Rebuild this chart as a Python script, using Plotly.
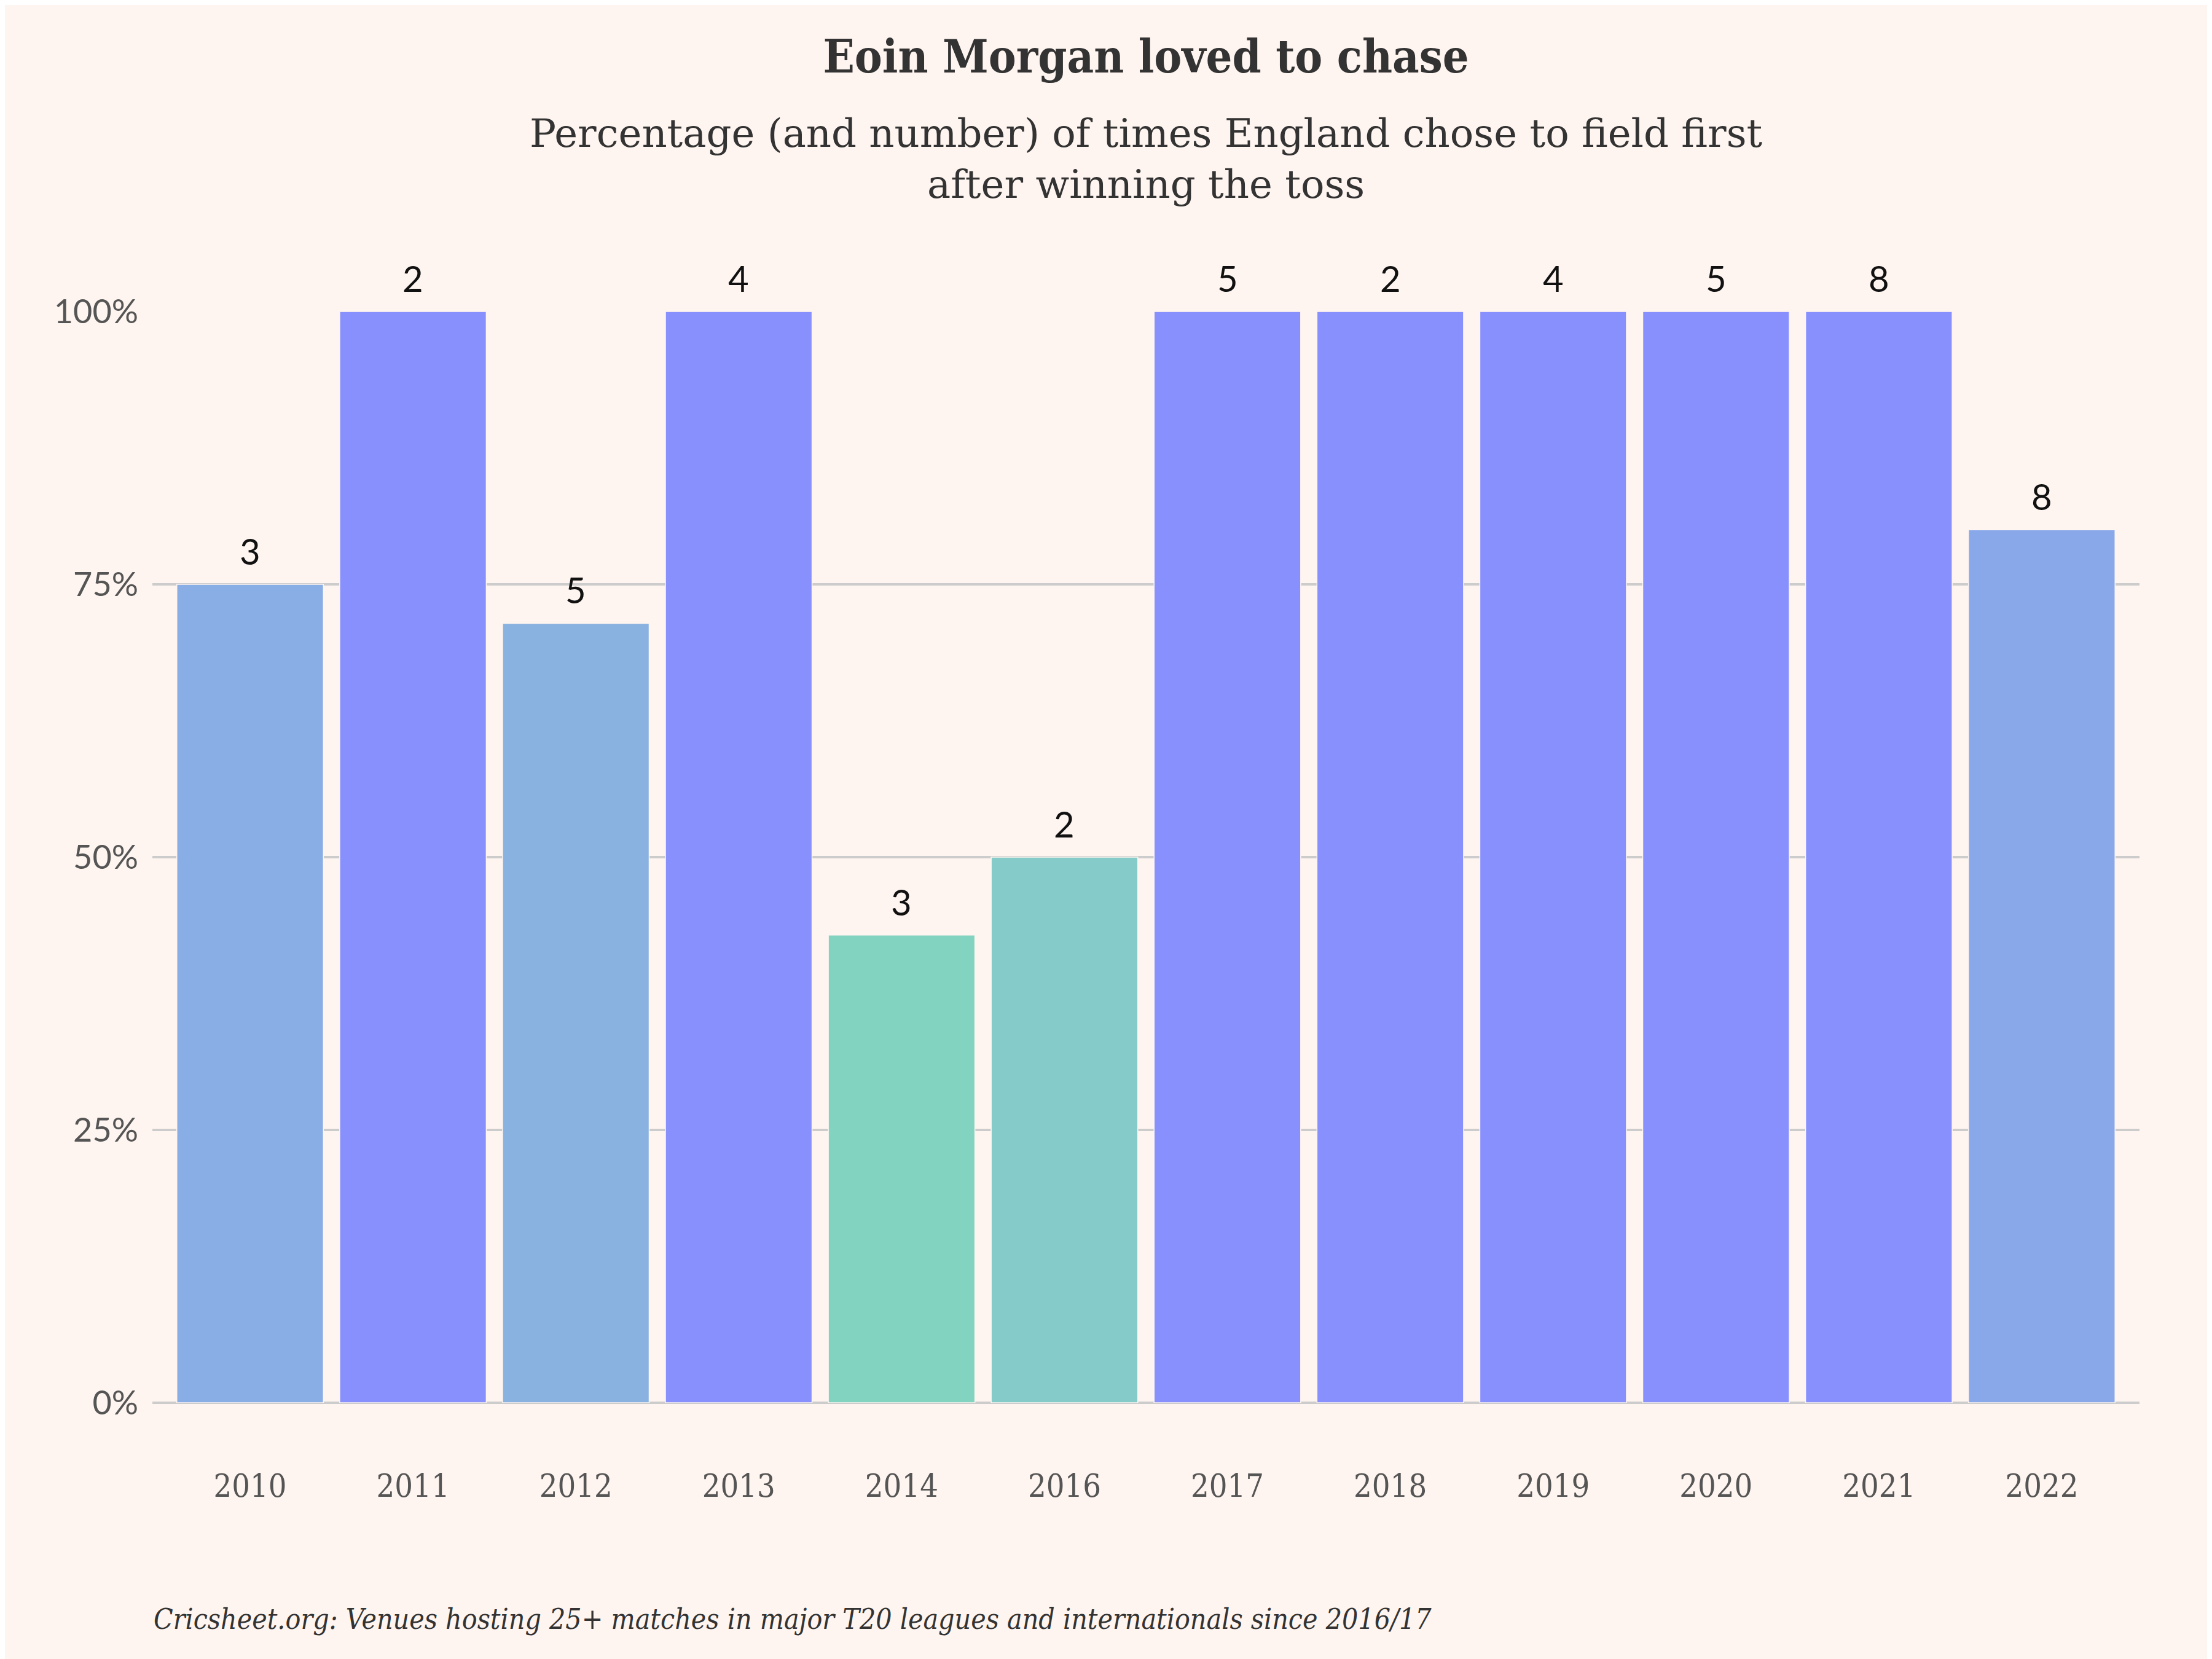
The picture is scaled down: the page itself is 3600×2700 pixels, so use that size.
import plotly.graph_objects as go

years = ["2010", "2011", "2012", "2013", "2014", "2016", "2017", "2018", "2019", "2020", "2021", "2022"]
pct_field_first = [75.0, 100.0, 71.43, 100.0, 42.86, 50.0, 100.0, 100.0, 100.0, 100.0, 100.0, 80.0]
times_field_first = [3, 2, 5, 4, 3, 2, 5, 2, 4, 5, 8, 8]
y_ticks = [0, 25, 50, 75, 100]
y_tick_labels = ["0%", "25%", "50%", "75%", "100%"]

BG = "#FFF5F0"
SERIF_C = "DejaVu Serif Condensed, DejaVu Serif, serif"
SERIF = "DejaVu Serif, serif"

L, R, T, B = 240, 126, 499, 425
plot_h = 2700 - T - B

fig = go.Figure()
fig.add_trace(go.Bar(
    x=years,
    y=pct_field_first,
    marker=dict(
        color=pct_field_first,
        colorscale=[[0, "rgb(131,211,193)"], [0.5, "rgb(137,178,225)"], [1, "rgb(136,144,254)"]],
        line=dict(color=BG, width=1.5),
    ),
    hoverinfo="skip",
))

# count labels above bars, positioned on the category axis by index
annotations = [
    dict(
        x=i, y=p, xref="x", yref="y", text=str(n),
        showarrow=False, yanchor="bottom", xanchor="center", yshift=18,
        font=dict(family="Lato", size=58, color="#111111"),
    )
    for i, (p, n) in enumerate(zip(pct_field_first, times_field_first))
]
annotations += [
    dict(
        text="Percentage (and number) of times England chose to field first<br>after winning the toss",
        xref="paper", yref="paper", x=0.5, y=1 + 249 / plot_h,
        xanchor="center", yanchor="middle", showarrow=False, align="center",
        font=dict(family=SERIF, size=64, color="#333333"),
    ),
    dict(
        text="<i>Cricsheet.org: Venues hosting 25+ matches in major T20 leagues and internationals since 2016/17</i>",
        xref="paper", yref="paper", x=0, y=-(2627 - 2275) / plot_h,
        xanchor="left", yanchor="middle", showarrow=False, align="left",
        font=dict(family=SERIF_C, size=46, color="#333333"),
    ),
]

fig.update_layout(
    width=3600,
    height=2700,
    paper_bgcolor=BG,
    plot_bgcolor=BG,
    bargap=0.1,
    showlegend=False,
    margin=dict(l=L, r=R, t=T, b=B, autoexpand=False),
    title=dict(
        text="<b>Eoin Morgan loved to chase</b>",
        font=dict(family=SERIF_C, size=75, color="#333333"),
        x=0.5, xref="paper", xanchor="center",
        y=1 - 84 / 2700, yref="container", yanchor="middle",
    ),
    xaxis=dict(
        type="category",
        range=[-0.6, 11.6],
        showgrid=False,
        zeroline=False,
        showline=False,
        ticks="",
        ticklabelstandoff=100,
        tickfont=dict(family=SERIF_C, size=52, color="#555555"),
    ),
    yaxis=dict(
        range=[0, 100],
        tickvals=y_ticks,
        ticktext=y_tick_labels,
        showgrid=True,
        gridcolor="#CCCCCC",
        gridwidth=4,
        zeroline=True,
        zerolinecolor="#CCCCCC",
        zerolinewidth=4,
        showline=False,
        ticks="",
        ticklabelstandoff=22,
        tickfont=dict(family="Lato", size=54, color="#555555"),
    ),
    annotations=annotations,
)

fig.write_html("out.html")
